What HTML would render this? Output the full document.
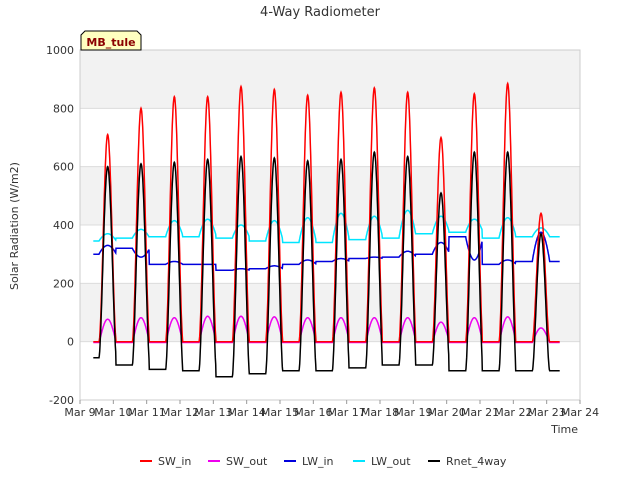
<!DOCTYPE html>
<html><head><meta charset="utf-8"><style>
body{margin:0;background:#fff;font-family:"Liberation Sans","DejaVu Sans",sans-serif;}
svg text{font-family:"DejaVu Sans","Liberation Sans",sans-serif;}
</style></head><body>
<svg id="chart" width="640" height="480" viewBox="0 0 640 480" xmlns="http://www.w3.org/2000/svg">
<rect width="640" height="480" fill="#fff"/>
<text x="320" y="16" text-anchor="middle" font-size="13" fill="#333">4-Way Radiometer</text>
<g id="bands"></g>
<g id="axes"></g>
<g id="series"></g>
<g>
<path d="M81,50 L81,35 L85,31 L137,31 L141,35 L141,50 Z" fill="#ffffc0" stroke="#000" stroke-width="1"/>
<text x="111" y="46" text-anchor="middle" font-size="11" font-weight="bold" fill="#8b0000">MB_tule</text>
</g>
<text transform="translate(18,226) rotate(-90)" text-anchor="middle" font-size="11" fill="#333">Solar Radiation (W/m2)</text>
<text x="578" y="433" text-anchor="end" font-size="11" fill="#333">Time</text>
<g id="legend"></g>
</svg>
<script>
const dayLabels=["Mar 9","Mar 10","Mar 11","Mar 12","Mar 13","Mar 14","Mar 15","Mar 16","Mar 17","Mar 18","Mar 19","Mar 20","Mar 21","Mar 22","Mar 23","Mar 24"];
const yTicks=[-200,0,200,400,600,800,1000];
const swInPeak=[710,800,840,840,875,865,845,855,870,855,700,850,885,440];
const swOutPeak=[80,85,85,90,90,88,85,85,85,85,70,85,88,50];
const lwInDay=[330,290,275,265,250,260,280,285,290,310,340,280,280,375];
const lwInNight=[300,320,265,265,245,250,265,275,285,290,300,360,265,275];
const lwOutPeak=[370,385,415,420,400,415,425,440,430,450,430,420,425,390];
const lwOutNight=[345,355,360,360,355,345,340,340,350,355,370,375,355,360];
const rnetPeak=[600,610,615,625,635,630,620,625,650,635,510,650,650,370];
const rnetNight=[-55,-80,-95,-100,-120,-110,-100,-100,-90,-80,-80,-100,-100,-100];

const NS="http://www.w3.org/2000/svg";
const X0=80,X1=580,Y0=400,Y1=50;
const xS=d=>X0+(d-9)*(X1-X0)/15;
const yS=v=>Y0-(v+200)*(Y0-Y1)/1200;
function mk(tag,attrs,parent){const e=document.createElementNS(NS,tag);for(const k in attrs)e.setAttribute(k,attrs[k]);parent.appendChild(e);return e;}
const bands=document.getElementById('bands'),axes=document.getElementById('axes'),series=document.getElementById('series'),legend=document.getElementById('legend');
for(let i=0;i<yTicks.length-1;i++){
  const r=mk('rect',{x:X0,y:yS(yTicks[i+1]),width:X1-X0,height:yS(yTicks[i])-yS(yTicks[i+1]),fill:(i%2==0)?'#ffffff':'#f2f2f2'},bands);
  
  
}
for(const t of yTicks){
  const l=mk('line',{x1:X0,x2:X1,y1:yS(t),y2:yS(t),stroke:'#dcdcdc'},axes);
  
  
  const tx=mk('text',{x:X0-6,y:yS(t)+4,'text-anchor':'end','font-size':'11',fill:'#333'},axes);
  tx.textContent=t;
  
  
}
mk('rect',{x:X0,y:Y1,width:X1-X0,height:Y0-Y1,fill:'none',stroke:'#ccc'},axes);
dayLabels.forEach((lab,i)=>{
  const x=xS(9+i);
  mk('line',{x1:x,x2:x,y1:Y0,y2:Y0+4,stroke:'#999'},axes);
  const tx=mk('text',{x:x,y:Y0+16,'text-anchor':'middle','font-size':'11',fill:'#333'},axes);
  tx.textContent=lab;
  
  
});
const W=0.52;
function shape(t){
  const i=Math.floor(t-9.57+0.5);const k=Math.max(0,Math.min(13,i));
  const start=9.57+k,p=(t-start)/W;
  const s=(p>0&&p<1)?Math.pow(Math.sin(Math.PI*p),1.8):0;
  return {k,s,day:p>0&&p<1};
}
function build(fn){const pts=[];for(let t=9.4;t<=23.4;t+=0.01){pts.push(xS(t).toFixed(1)+','+yS(fn(t)).toFixed(1));}return pts.join(' ');}
const defs=[
 {name:'LW_out',color:'#00e5ff',fn:t=>{const {k,s}=shape(t);return lwOutNight[k]+(lwOutPeak[k]-lwOutNight[k])*Math.sqrt(s);}},
 {name:'LW_in',color:'#0000dd',fn:t=>{const {k,s,day}=shape(t);return day?lwInNight[k]+(lwInDay[k]-lwInNight[k])*Math.sqrt(s):lwInNight[k];}},
 {name:'SW_out',color:'#ee00ee',fn:t=>{const {k,s}=shape(t);return swOutPeak[k]*Math.pow(s,0.6)-3;}},
 {name:'SW_in',color:'#ff0000',fn:t=>{const {k,s}=shape(t);return swInPeak[k]*s;}},
 {name:'Rnet_4way',color:'#000000',fn:t=>{const {k,s}=shape(t);return rnetNight[k]+(rnetPeak[k]-rnetNight[k])*Math.pow(s,0.9);}}
];
for(const d of defs){
  const pl=mk('polyline',{points:build(d.fn),fill:'none',stroke:d.color,'stroke-width':'1.5'},series);
  
  
}
const legOrder=[['SW_in','#ff0000',140],['SW_out','#ee00ee',208],['LW_in','#0000dd',284],['LW_out','#00e5ff',353],['Rnet_4way','#000000',428]];
for(const [n,c,x] of legOrder){
  const g=mk('g',{},legend);
  
  
  mk('line',{x1:x,x2:x+12,y1:461,y2:461,stroke:c,'stroke-width':'2'},g);
  const tx=mk('text',{x:x+18,y:465,'font-size':'11',fill:'#333'},g);
  tx.textContent=n;
}
</script>
</body></html>
